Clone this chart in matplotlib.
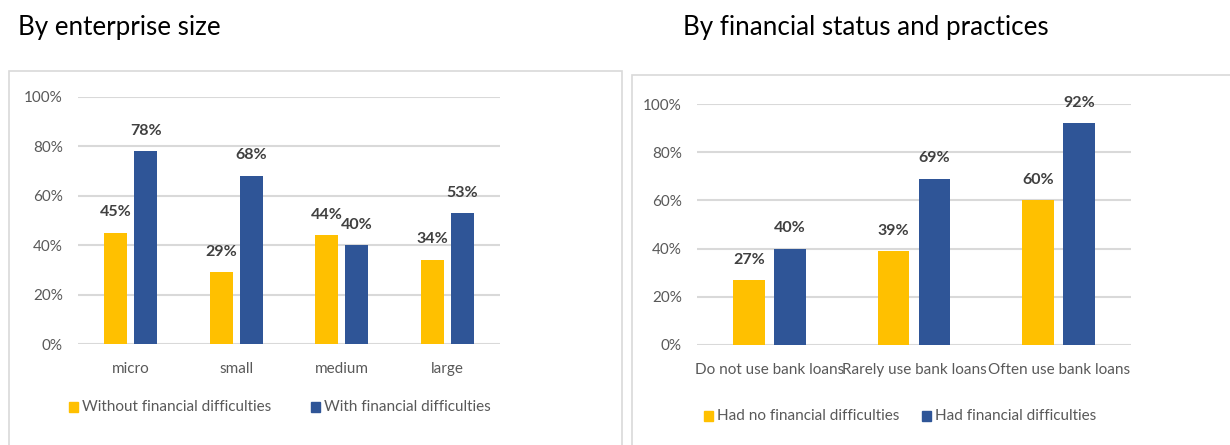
import numpy as np
import matplotlib.pyplot as plt
from matplotlib.patches import Rectangle

plt.rcParams['font.family'] = ['Lato', 'DejaVu Sans']

# data
size_cats = ['micro', 'small', 'medium', 'large']
size_without = [45, 29, 44, 34]
size_with = [78, 68, 40, 53]

loan_cats = ['Do not use bank loans', 'Rarely use bank loans', 'Often use bank loans']
loan_no = [27, 39, 60]
loan_yes = [40, 69, 92]

yellow = '#FFC000'
blue = '#2F5597'
grey_txt = '#595959'
lbl_txt = '#404040'
grid_c = '#D9D9D9'

fig = plt.figure(figsize=(12.3, 4.45), dpi=100)
W, H = 1230, 445

# panel frames
fig.patches.append(Rectangle((9 / W, -0.01), 613 / W, (445 - 71) / H + 0.01,
                             transform=fig.transFigure, fill=False, edgecolor='#D9D9D9', lw=1.2))
fig.patches.append(Rectangle((632 / W, -0.01), 0.5, (445 - 75) / H + 0.01,
                             transform=fig.transFigure, fill=False, edgecolor='#D9D9D9', lw=1.2))

fig.text(18 / W, 1 - 28 / H, 'By enterprise size', fontsize=18.7, va='center', ha='left', color='black')
fig.text(683 / W, 1 - 28 / H, 'By financial status and practices', fontsize=18.7, va='center', ha='left', color='black')


def panel(rect, cats, a, b, names, leg_y, leg_x):
    ax = fig.add_axes(rect)
    x = np.arange(len(cats))
    w = 0.22
    off = 0.142
    ax.bar(x - off, a, w, color=yellow, zorder=3)
    ax.bar(x + off, b, w, color=blue, zorder=3)
    for xi, v in zip(x - off, a):
        ax.text(xi, v + 5.5, f'{v}%', ha='center', va='bottom', fontsize=11.5, fontweight='bold', color=lbl_txt)
    for xi, v in zip(x + off, b):
        ax.text(xi, v + 5.5, f'{v}%', ha='center', va='bottom', fontsize=11.5, fontweight='bold', color=lbl_txt)
    ax.set_xlim(-0.5, len(cats) - 0.5)
    ax.set_ylim(0, 100)
    ax.set_yticks(range(0, 101, 20))
    ax.set_yticklabels([f'{t}%' for t in range(0, 101, 20)])
    ax.set_xticks(x)
    ax.set_xticklabels(cats)
    ax.tick_params(axis='y', length=0, pad=11, labelsize=11, labelcolor=grey_txt)
    ax.tick_params(axis='x', length=0, pad=13, labelsize=11, labelcolor=grey_txt)
    ax.grid(axis='y', color=grid_c, lw=1.5, zorder=0)
    for s in ax.spines.values():
        s.set_visible(False)
    ax.set_facecolor('none')
    # legend
    for (lx, c, n) in zip(leg_x, [yellow, blue], names):
        fig.patches.append(Rectangle((lx / W, 1 - (leg_y + 5) / H), 9 / W, 10 / H,
                                     transform=fig.transFigure, color=c))
        fig.text((lx + 13) / W, 1 - leg_y / H, n, fontsize=11, color=grey_txt, va='center', ha='left')
    return ax


panel([78 / W, (H - 344) / H, 422 / W, 247 / H], size_cats, size_without, size_with,
      ['Without financial difficulties', 'With financial difficulties'], 407, [69, 311])
panel([697 / W, (H - 345) / H, 434 / W, 241 / H], loan_cats, loan_no, loan_yes,
      ['Had no financial difficulties', 'Had financial difficulties'], 416, [704, 922])

fig.savefig('out.png', dpi=100)
